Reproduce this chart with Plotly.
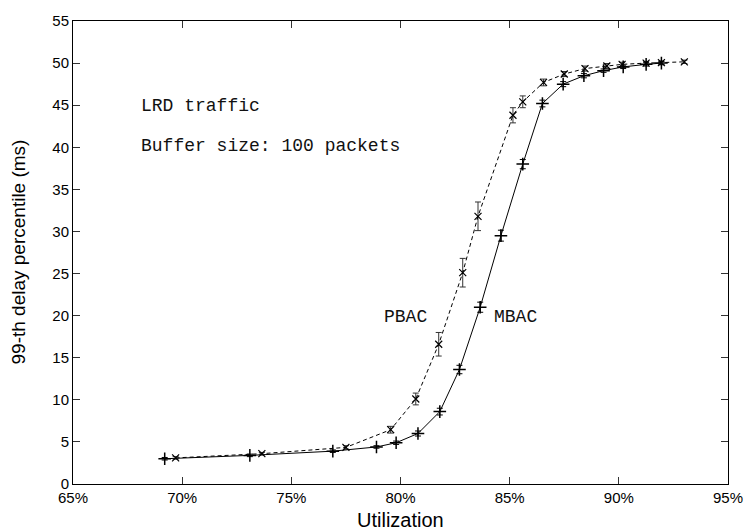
import plotly.graph_objects as go

# Utilization (%) and 99-th delay percentile (ms)
mbac_util = [69.2, 73.1, 76.9, 78.9, 79.8, 80.8, 81.8, 82.7, 83.65, 84.6, 85.6, 86.5, 87.45, 88.4, 89.3, 90.2, 91.25, 91.95]
mbac_delay = [3.0, 3.4, 3.9, 4.4, 4.9, 6.0, 8.6, 13.6, 21.0, 29.5, 38.0, 45.2, 47.5, 48.5, 49.1, 49.55, 49.85, 50.0]
mbac_err = [0.15, 0.15, 0.15, 0.15, 0.2, 0.3, 0.4, 0.5, 0.6, 0.65, 0.55, 0.4, 0.3, 0.25, 0.2, 0.2, 0.2, 0.2]

pbac_util = [69.7, 73.65, 77.5, 79.55, 80.7, 81.75, 82.85, 83.55, 85.15, 85.6, 86.55, 87.5, 88.45, 89.45, 90.15, 91.25, 91.95, 93.0]
pbac_delay = [3.1, 3.6, 4.35, 6.45, 10.1, 16.6, 25.1, 31.8, 43.8, 45.4, 47.7, 48.7, 49.35, 49.65, 49.85, 50.0, 50.05, 50.15]
pbac_err = [0.15, 0.15, 0.2, 0.4, 0.7, 1.4, 1.7, 1.7, 0.9, 0.7, 0.4, 0.3, 0.3, 0.3, 0.25, 0.2, 0.2, 0.2]

x_tickvals = [65, 70, 75, 80, 85, 90, 95]
x_ticktext = ["65%", "70%", "75%", "80%", "85%", "90%", "95%"]
y_tickvals = [0, 5, 10, 15, 20, 25, 30, 35, 40, 45, 50, 55]

fig = go.Figure()

fig.add_trace(go.Scatter(
    x=pbac_util, y=pbac_delay, mode="lines+markers", name="PBAC",
    line=dict(color="black", width=1, dash="4px,3px"),
    marker=dict(symbol="x-thin-open", size=7, line=dict(color="black", width=1.2)),
    error_y=dict(type="data", array=pbac_err, visible=True, color="#333333", thickness=1, width=3),
))
fig.add_trace(go.Scatter(
    x=mbac_util, y=mbac_delay, mode="lines+markers", name="MBAC",
    line=dict(color="black", width=1),
    marker=dict(symbol="cross-thin-open", size=9, line=dict(color="black", width=1.5)),
    error_y=dict(type="data", array=mbac_err, visible=True, color="black", thickness=1, width=3),
))

mono = dict(family="Liberation Mono, Courier New, monospace", size=18, color="#111111")
fig.add_annotation(x=68.0, y=44.9, text="LRD traffic", showarrow=False, xanchor="left", font=mono)
fig.add_annotation(x=68.0, y=40.1, text="Buffer size: 100 packets", showarrow=False, xanchor="left", font=mono)
fig.add_annotation(x=80.25, y=19.8, text="PBAC", showarrow=False, xanchor="center", font=mono)
fig.add_annotation(x=85.25, y=19.8, text="MBAC", showarrow=False, xanchor="center", font=mono)

sans = "Liberation Sans, Arial, Helvetica, sans-serif"
fig.add_annotation(xref="paper", yref="paper", x=0.5, y=0, yshift=-36, text="Utilization",
                   showarrow=False, yanchor="middle", font=dict(family=sans, size=20, color="black"))
fig.add_annotation(xref="paper", yref="paper", x=0, xshift=-55, y=0.5, text="99-th delay percentile (ms)",
                   textangle=-90, showarrow=False, xanchor="center",
                   font=dict(family=sans, size=19, color="black"))

axis_common = dict(showline=True, linecolor="black", linewidth=1, mirror="ticks",
                   ticks="inside", ticklen=7, tickcolor="#333333", tickwidth=1,
                   showgrid=False, zeroline=False,
                   tickfont=dict(family=sans, size=15, color="black"))

fig.update_layout(
    width=755, height=530,
    margin=dict(l=73, r=17, t=17, b=46),
    paper_bgcolor="white", plot_bgcolor="white",
    showlegend=False,
    xaxis=dict(range=[65, 95], tickvals=x_tickvals, ticktext=x_ticktext, **axis_common),
    yaxis=dict(range=[0, 55], tickvals=y_tickvals, **axis_common),
)

fig.write_html("out.html")
